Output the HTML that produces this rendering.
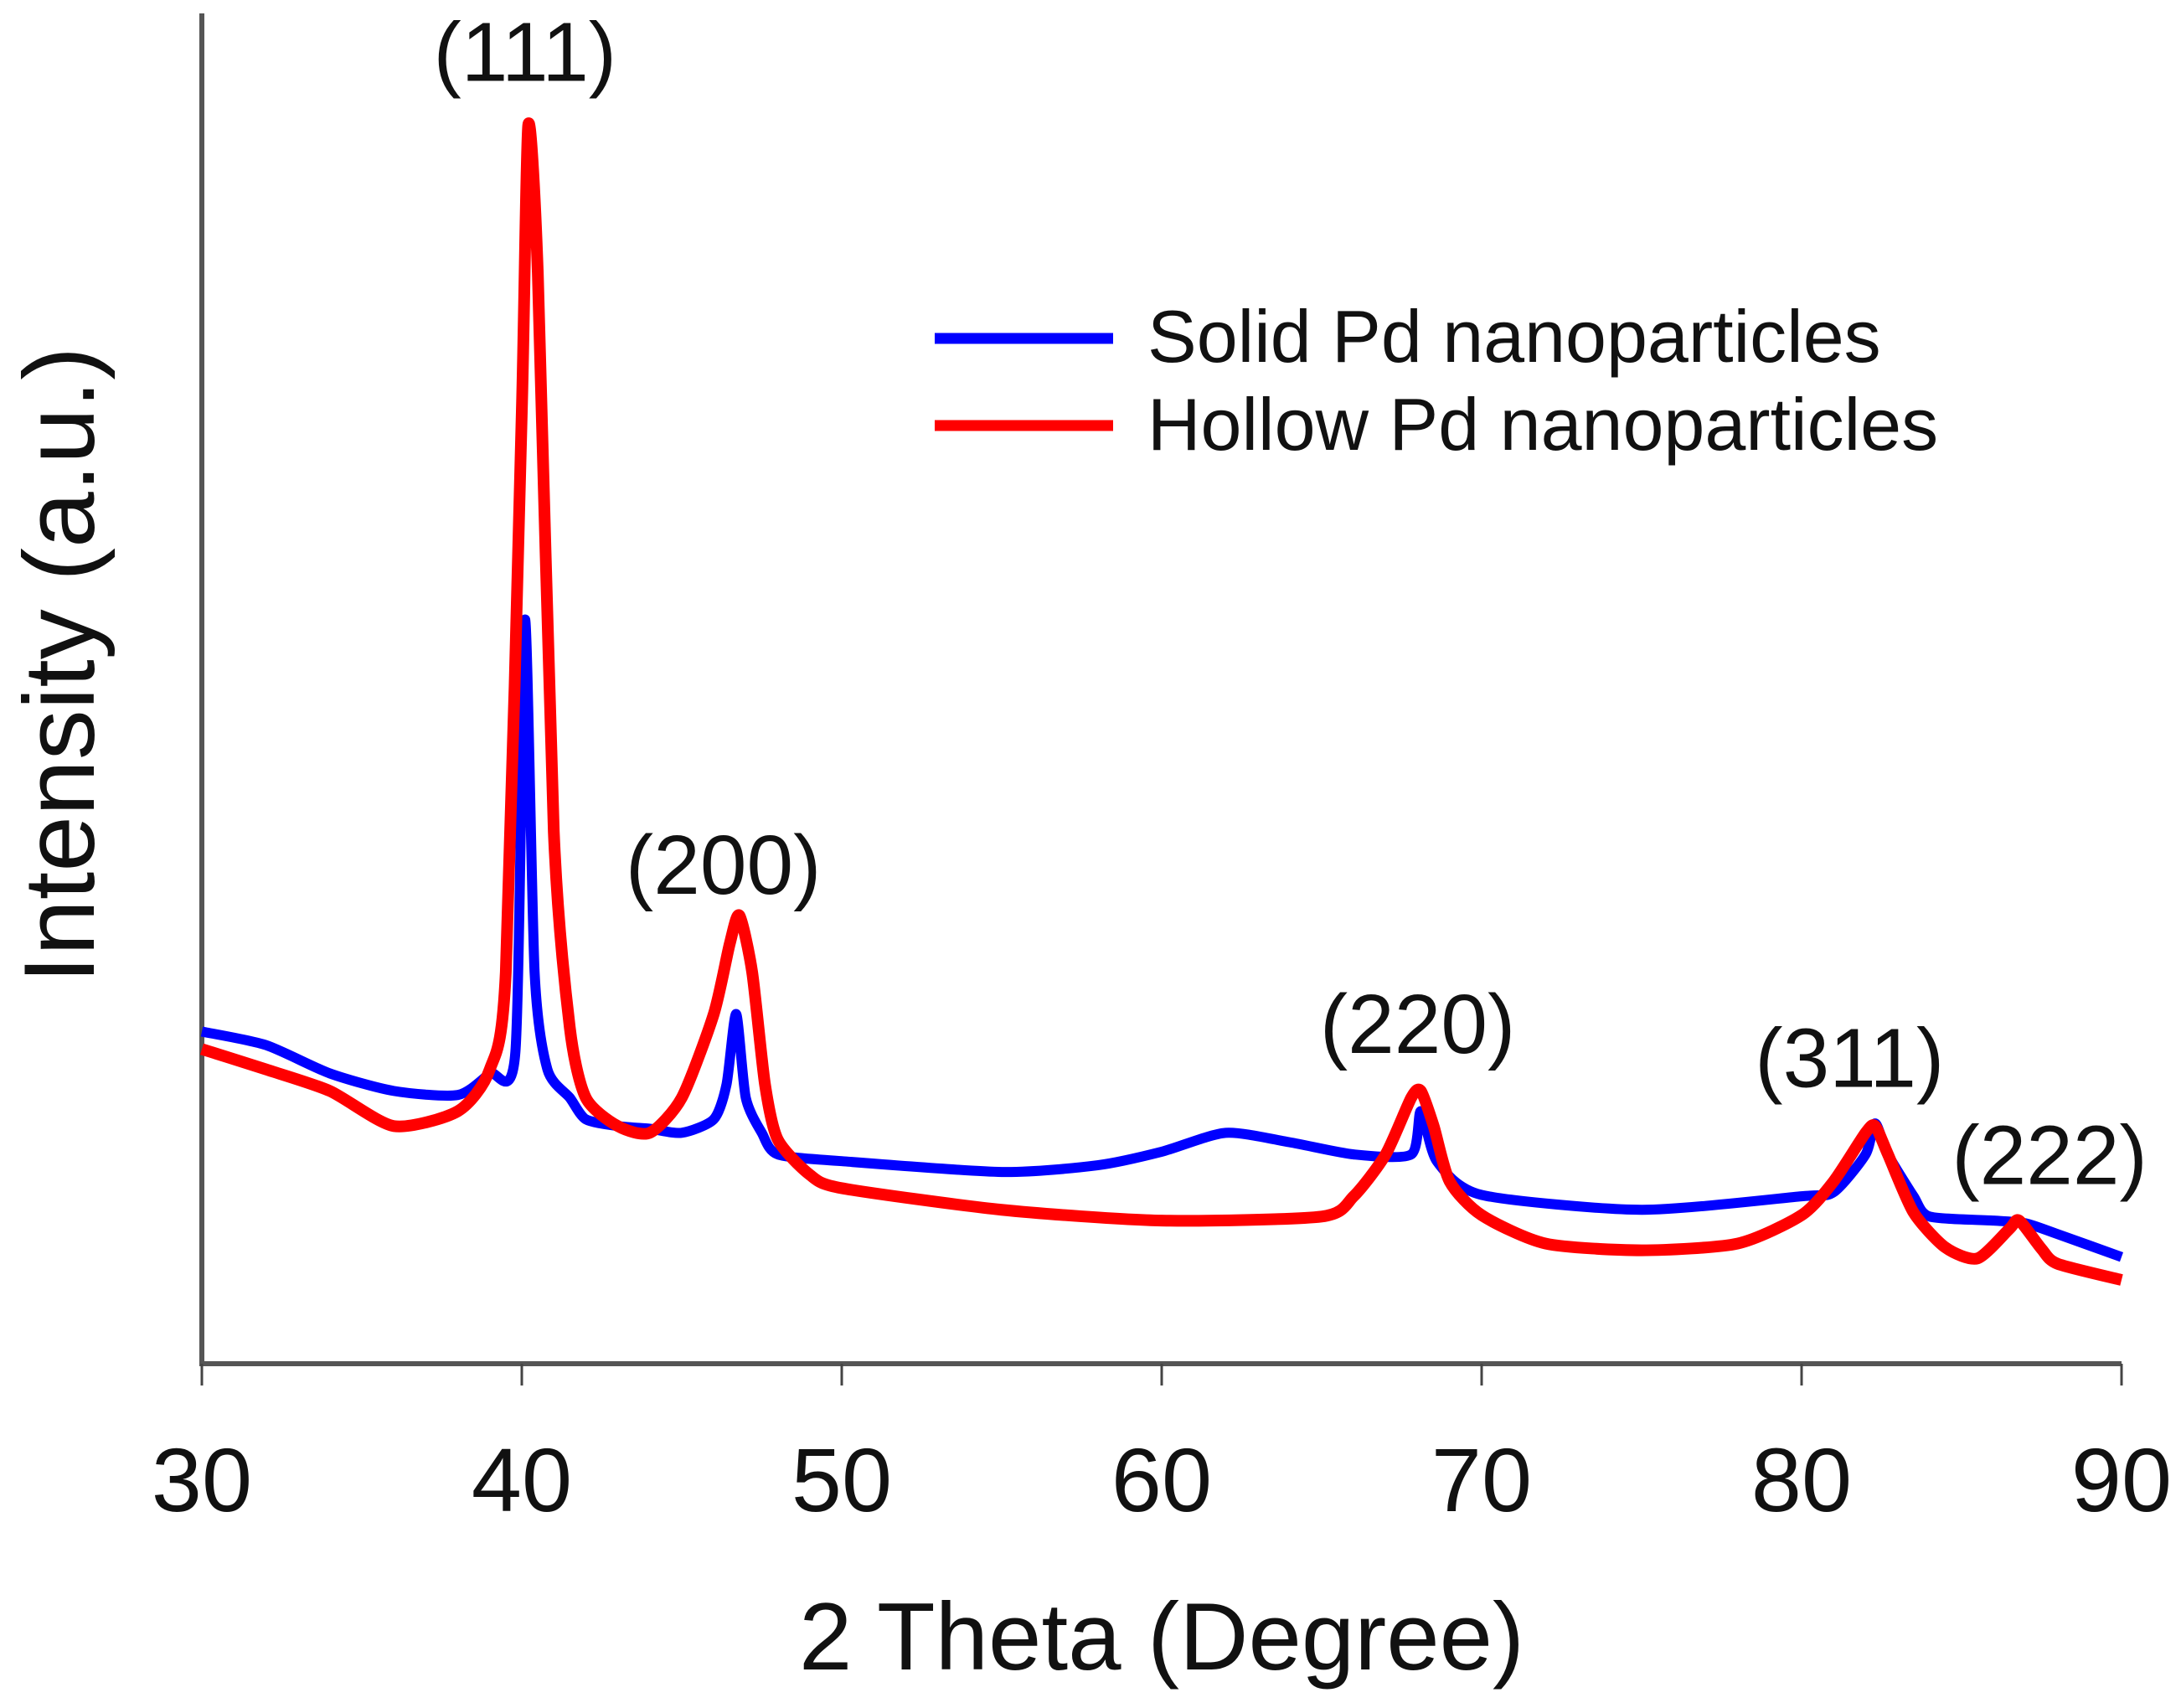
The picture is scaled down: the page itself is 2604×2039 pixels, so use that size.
<!DOCTYPE html>
<html><head><meta charset="utf-8"><style>
html,body{margin:0;padding:0;background:#fff}
svg{display:block}
text{font-family:"Liberation Sans",sans-serif;fill:#111}
</style></head><body>
<svg id="chart" width="2604" height="2039" viewBox="0 0 2604 2039" xmlns="http://www.w3.org/2000/svg">
<g id="axes"></g>
<g id="series"></g>
<g id="labels"></g>
<text x="1387" y="1993" font-size="114" text-anchor="middle">2 Theta (Degree)</text>
<text transform="translate(112,794) rotate(-90)" font-size="120" text-anchor="middle">Intensity (a.u.)</text>
<g>
<line x1="1116" y1="404" x2="1329" y2="404" stroke="#0000ff" stroke-width="13"/>
<text x="1370" y="432" font-size="88">Solid Pd nanoparticles</text>
<line x1="1116" y1="508" x2="1329" y2="508" stroke="#ff0000" stroke-width="13"/>
<text x="1370" y="537" font-size="88">Hollow Pd nanoparticles</text>
</g>
</svg>
<script>
const xTicks = [30,40,50,60,70,80,90];
const solidX = [30,32,34,36,38,39,39.8,40.1,40.4,40.8,41.5,42,43,44,45,46,46.4,46.7,47,47.5,48,50,55,58,60,62,64,66,67.8,68.1,68.6,70,75,80,81,82,82.3,82.7,83.5,84,86,87,88,90];
const solidY = [24.6,23.6,21.5,20.2,19.9,21.5,23.1,55.1,29.0,21.8,19.7,18.1,17.6,17.4,17.1,18.1,20.7,25.9,19.7,17.1,15.5,15.0,14.2,14.7,15.7,17.1,16.4,15.5,15.5,18.7,15.0,12.5,11.4,12.4,12.7,15.5,17.8,15.5,12.4,10.9,10.6,10.4,9.6,7.9];
const hollowX = [30,32,34,36,38,39,39.5,40,40.2,40.5,41,41.5,42,43,44,45,46,46.5,46.8,47.2,47.6,48,49,50,55,60,65,66,67,67.8,68.1,68.5,69,70,72,75,78,80,81,82,82.3,82.7,83.5,84.5,85.5,86.5,86.8,87.5,88,90];
const hollowY = [23.3,21.8,20.2,17.6,18.7,21.8,29.0,70.5,91.7,80.8,39.4,24.9,19.7,17.6,17.1,19.7,25.9,31.1,33.2,29.0,20.7,16.6,14.0,13.0,11.4,10.6,10.9,12.4,15.5,19.7,20.2,17.6,13.5,11.0,8.9,8.4,8.9,11.0,13.5,17.1,17.6,15.5,11.2,8.6,7.8,10.0,10.6,8.5,7.4,6.2];
const peakNames = ["(111)","(200)","(220)","(311)","(222)"];
const peakLabelX = [40.1,46.3,68.0,81.5,87.75];
const peakLabelY = [95,34.8,23.0,20.5,13.3];

const NS="http://www.w3.org/2000/svg";
const X0=241,X1=2533,YB=1628,YT=16;
const sx=v=>X0+(v-30)/60*(X1-X0);
const sy=v=>YB-v/100*(YB-YT);
const axes=document.getElementById('axes');
function mk(tag,attrs,parent){const e=document.createElementNS(NS,tag);for(const k in attrs)e.setAttribute(k,attrs[k]);parent.appendChild(e);return e;}
let l=mk('line',{x1:X0,y1:YT,x2:X0,y2:YB+3,stroke:'#555',"stroke-width":6},axes);


l=mk('line',{x1:X0-3,y1:YB,x2:X1,y2:YB,stroke:'#555',"stroke-width":6},axes);


xTicks.forEach(t=>{
  const tk=mk('line',{x1:sx(t),y1:YB,x2:sx(t),y2:YB+26,stroke:'#444',"stroke-width":3},axes);
  
  
  const tx=mk('text',{x:sx(t),y:1804,"font-size":108,"text-anchor":"middle"},axes);
  tx.textContent=t;
  
  
});
function path(xs,ys){
  const p=xs.map((x,i)=>[sx(x),sy(ys[i])]);
  let d='M'+p[0][0]+','+p[0][1];
  for(let i=0;i<p.length-1;i++){
    const a=p[Math.max(0,i-1)],b=p[i],c=p[i+1],e=p[Math.min(p.length-1,i+2)];
    const k=0.12;
    d+=' C'+(b[0]+(c[0]-a[0])*k)+','+(b[1]+(c[1]-a[1])*k)+' '+(c[0]-(e[0]-b[0])*k)+','+(c[1]-(e[1]-b[1])*k)+' '+c[0]+','+c[1];
  }
  return d;
}
const ser=document.getElementById('series');
let s=mk('path',{d:path(solidX,solidY),fill:'none',stroke:'#0000ff',"stroke-width":12,"stroke-linejoin":"round"},ser);


s=mk('path',{d:path(hollowX,hollowY),fill:'none',stroke:'#ff0000',"stroke-width":14,"stroke-linejoin":"round"},ser);


const lab=document.getElementById('labels');
peakNames.forEach((n,i)=>{
  const t=mk('text',{x:sx(peakLabelX[i]),y:sy(peakLabelY[i]),"font-size":100,"text-anchor":"middle"},lab);
  t.textContent=n;
  
  
});
</script>
</body></html>
